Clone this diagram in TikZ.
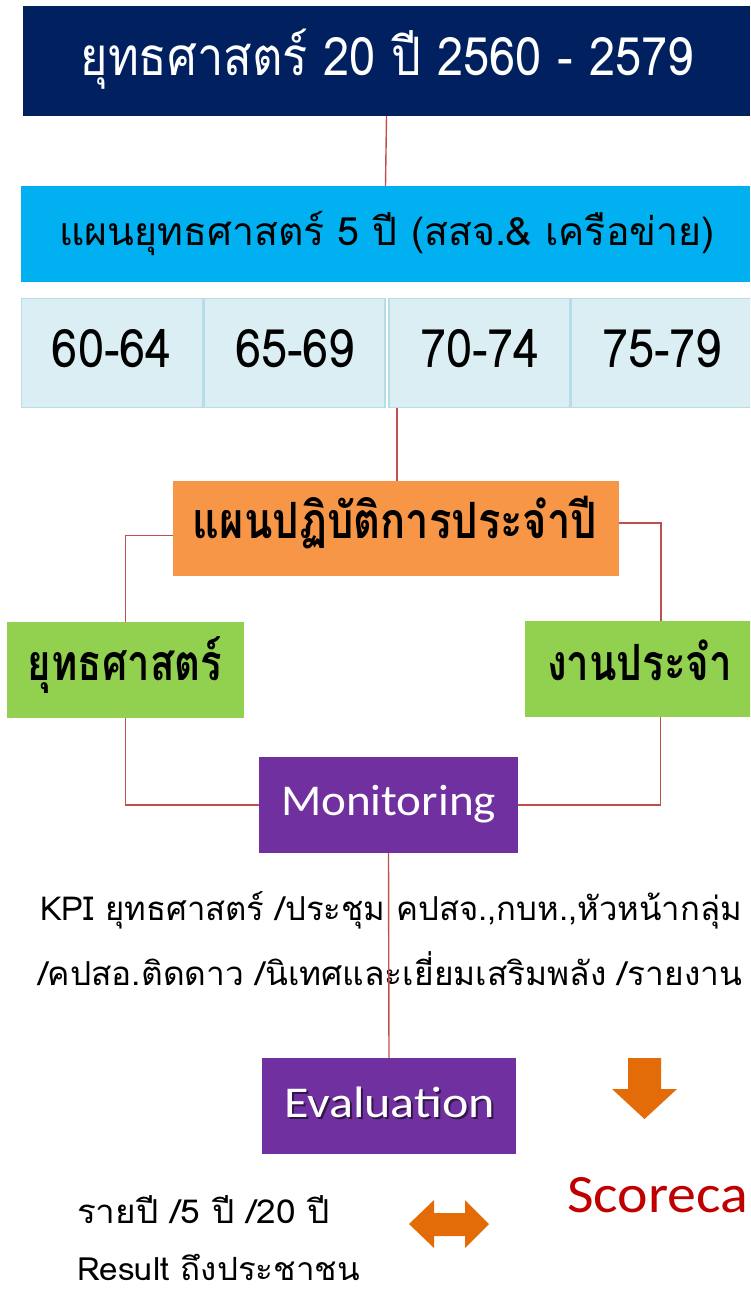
\documentclass[tikz,border=0pt]{standalone}
\usepackage{fontspec}
\usepackage{graphicx}
\newfontfamily\thaifont[Script=Thai]{Loma}
\newfontfamily\latinfont{Carlito}
\definecolor{navy}{HTML}{002060}
\definecolor{cyanbox}{HTML}{00B0F0}
\definecolor{cellfill}{HTML}{DAEEF3}
\definecolor{cellline}{HTML}{B7DDE8}
\definecolor{orangebox}{HTML}{F79646}
\definecolor{greenbox}{HTML}{92D050}
\definecolor{purplebox}{HTML}{7030A0}
\definecolor{connred}{HTML}{C0504D}
\definecolor{arroworange}{HTML}{E36C09}
\definecolor{scorered}{HTML}{C00000}
\newcommand{\fitw}[2]{\resizebox{#1pt}{\height}{#2}}
\begin{document}
\begin{tikzpicture}[x=1pt,y=-1pt,
  box/.style={rectangle,inner sep=0pt,outer sep=0pt},
  cell/.style={box,fill=cellfill,draw=cellline,line width=1.5pt,minimum width=181,minimum height=109},
  lbl/.style={inner sep=0pt,outer sep=0pt,anchor=base},
  conn/.style={draw=connred,line width=1.4pt},
  bigarrow/.style={fill=arroworange,draw=none}]
\useasboundingbox (0,0) rectangle (750,1293);
\clip (0,0) rectangle (750,1293);
% boxes
\node[box,fill=navy,minimum width=727,minimum height=110] (title) at (386.5,61) {};
\node[box,fill=cyanbox,minimum width=729,minimum height=96] (plan5) at (385.5,234) {};
\node[cell] (c1) at (112,353) {};
\node[cell] (c2) at (294.5,353) {};
\node[cell] (c3) at (479.5,353) {};
\node[cell] (c4) at (662,353) {};
\node[box,fill=orangebox,minimum width=446,minimum height=95] (annual) at (396,528.5) {};
\node[box,fill=greenbox,minimum width=237,minimum height=96] (gl) at (125.5,670) {};
\node[box,fill=greenbox,minimum width=227,minimum height=96] (gr) at (638.5,669) {};
\node[box,fill=purplebox,minimum width=259,minimum height=96] (mon) at (388.5,805) {};
\node[box,fill=purplebox,minimum width=254,minimum height=96] (eval) at (389,1106) {};
% labels
\node[lbl,text=white] (tTitle) at (387,75) {\fitw{613}{\thaifont\fontsize{53}{60}\selectfont ยุทธศาสตร์ 20 ปี 2560 - 2579}};
\node[lbl] (tPlan5) at (387,245) {\fitw{655}{\thaifont\fontsize{39}{44}\selectfont แผนยุทธศาสตร์ 5 ปี (สสจ.\& เครือข่าย)}};
\node[lbl] (t1) at (112,367) {\fitw{120}{\thaifont\fontsize{53}{60}\selectfont 60-64}};
\node[lbl] (t2) at (295,367) {\fitw{120}{\thaifont\fontsize{53}{60}\selectfont 65-69}};
\node[lbl] (t3) at (480,367) {\fitw{120}{\thaifont\fontsize{53}{60}\selectfont 70-74}};
\node[lbl] (t4) at (662,367) {\fitw{120}{\thaifont\fontsize{53}{60}\selectfont 75-79}};
\node[lbl] (tAnnual) at (395,538) {\fitw{404}{\thaifont\bfseries\fontsize{50}{56}\selectfont แผนปฏิบัติการประจำปี}};
\node[lbl] (tgl) at (125,680) {\fitw{194}{\thaifont\bfseries\fontsize{50}{56}\selectfont ยุทธศาสตร์}};
\node[lbl] (tgr) at (639.5,680) {\fitw{185}{\thaifont\bfseries\fontsize{50}{56}\selectfont งานประจำ}};
\node[lbl,text=white] (tmon) at (388.5,815) {\fitw{215}{\latinfont\fontsize{44}{50}\selectfont Monitoring}};
\node[lbl,text=purplebox!45!black] (tevalsh) at (391.5,1119.5) {\fitw{211}{\latinfont\fontsize{44}{50}\selectfont Evaluation}};
\node[lbl,text=white] (teval) at (389.5,1117) {\fitw{211}{\latinfont\fontsize{44}{50}\selectfont Evaluation}};
\node[lbl,anchor=base west] (kpi1) at (40,920) {\fitw{702}{\thaifont\fontsize{33}{40}\selectfont KPI ยุทธศาสตร์ /ประชุม คปสจ.,กบห.,หัวหน้ากลุ่ม}};
\node[lbl,anchor=base west] (kpi2) at (38,985) {\fitw{704}{\thaifont\fontsize{33}{40}\selectfont /คปสอ.ติดดาว /นิเทศและเยี่ยมเสริมพลัง /รายงาน}};
\node[lbl,anchor=base west] (yr) at (77,1223) {\fitw{253}{\thaifont\fontsize{33}{40}\selectfont รายปี /5 ปี /20 ปี}};
\node[lbl,anchor=base west] (res) at (77,1280) {\fitw{283}{\thaifont\fontsize{32}{38}\selectfont Result ถึงประชาชน}};
\node[lbl,anchor=base west,text=scorered] (score) at (567,1212) {\fitw{181}{\latinfont\fontsize{54}{60}\selectfont Scoreca}};
% connectors
\draw[conn] (title.south) -- (plan5.north);
\draw[conn] ([xshift=8pt]c3.south west) -- ([xshift=8pt]c3.south west |- annual.north);
\draw[conn] ([yshift=-7pt]annual.west) -| (gl.north);
\draw[conn] ([yshift=5.5pt]annual.east) -| ([xshift=22.5pt]gr.north);
\draw[conn] (gl.south) |- (mon.west);
\draw[conn] ([xshift=22pt]gr.south) |- (mon.east);
\draw[conn] (mon.south) -- (eval.north);
% orange arrows
\fill[bigarrow] (628,1058) -- (661,1058) -- (661,1089) -- (677,1089) -- (644.5,1119) -- (612,1089) -- (628,1089) -- cycle;
\fill[bigarrow] (409,1224) -- (434,1200) -- (434,1213) -- (465,1213) -- (465,1200) -- (489,1224) -- (465,1248) -- (465,1236) -- (434,1236) -- (434,1248) -- cycle;
\end{tikzpicture}
\end{document}
